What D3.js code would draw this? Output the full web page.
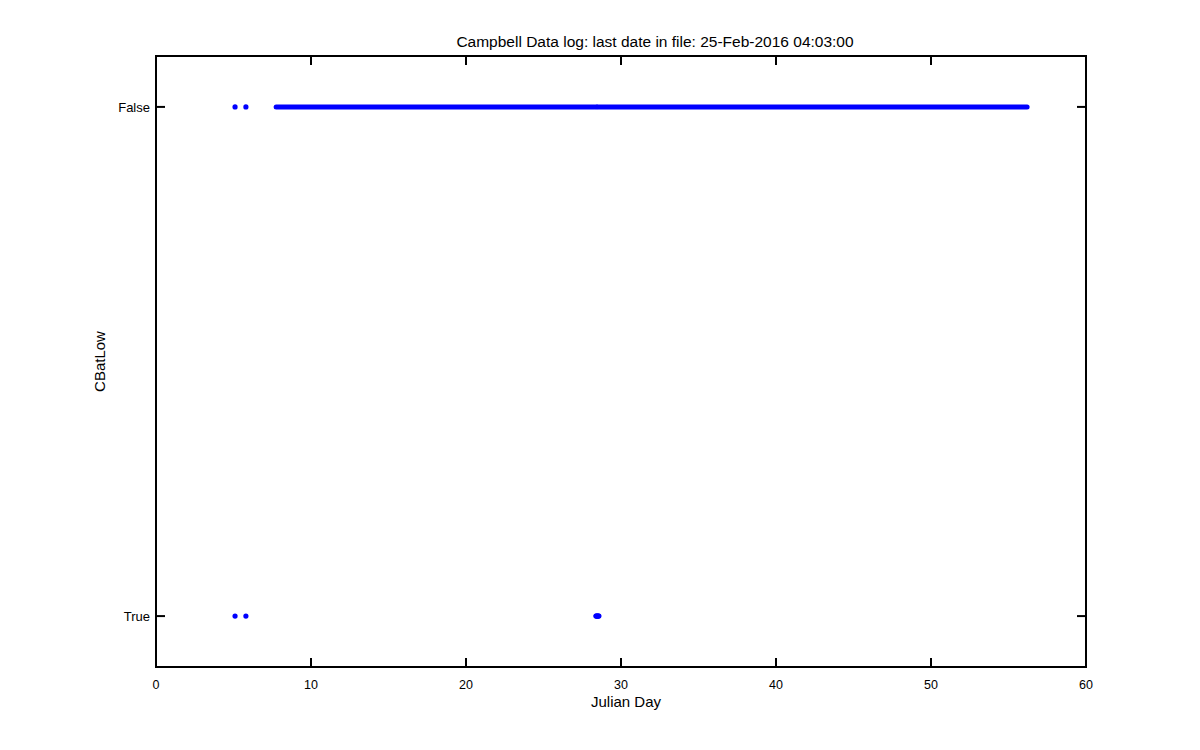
<!DOCTYPE html>
<html><head><meta charset="utf-8">
<script src="https://cdn.jsdelivr.net/npm/d3@7"></script>
<style>body{margin:0;background:#fff}text{font-family:"Liberation Sans",Arial,sans-serif;fill:#000}</style>
</head><body>
<svg id="c" width="1200" height="750"></svg>
<script>
const titleText = "Campbell Data log: last date in file: 25-Feb-2016 04:03:00";
const xLabel = "Julian Day";
const yLabel = "CBatLow";
const xTicks = [0, 10, 20, 30, 40, 50, 60];
const yCategories = ["True", "False"];
// isolated samples (day values)
const falsePoints = [5.1, 5.8, 28.45];
const truePoints = [5.1, 5.8, 28.4, 28.45, 28.5, 28.55];
// continuous runs of dense samples [startDay, endDay]
const falseRuns = [[7.75, 28.3], [28.6, 56.2]];
const trueRuns = [[28.38, 28.58]];

const svg = d3.select("#c");
const L = 156, R = 1086, T = 56, B = 667;
const x = d3.scaleLinear().domain([0, 60]).range([L, R]);
const y = d3.scaleLinear().domain([-0.1, 1.1]).range([B, T]);
const yOf = s => y(s === "False" ? 1 : 0);
const blue = "#0000ff";

svg.append("rect").attr("x", L).attr("y", T).attr("width", R - L).attr("height", B - T)
  .attr("fill", "none").attr("stroke", "#000").attr("stroke-width", 2);

const tl = 9;
xTicks.forEach(t => {
  svg.append("line").attr("x1", x(t)).attr("x2", x(t)).attr("y1", B).attr("y2", B - tl).attr("stroke", "#000").attr("stroke-width", 2);
  svg.append("line").attr("x1", x(t)).attr("x2", x(t)).attr("y1", T).attr("y2", T + tl).attr("stroke", "#000").attr("stroke-width", 2);
  svg.append("text").attr("x", x(t)).attr("y", B + 22).attr("text-anchor", "middle").attr("font-size", 12.5).text(t);
});
yCategories.forEach(c => {
  const yy = yOf(c);
  svg.append("line").attr("x1", L).attr("x2", L + tl).attr("y1", yy).attr("y2", yy).attr("stroke", "#000").attr("stroke-width", 2);
  svg.append("line").attr("x1", R).attr("x2", R - tl).attr("y1", yy).attr("y2", yy).attr("stroke", "#000").attr("stroke-width", 2);
  svg.append("text").attr("x", L - 6).attr("y", yy + 5).attr("text-anchor", "end").attr("font-size", 13).text(c);
});

const runs = falseRuns.map(r => ({r, s: "False"})).concat(trueRuns.map(r => ({r, s: "True"})));
svg.selectAll(".run").data(runs).join("line").attr("class", "run")
  .attr("x1", d => x(d.r[0])).attr("x2", d => x(d.r[1]))
  .attr("y1", d => yOf(d.s)).attr("y2", d => yOf(d.s))
  .attr("stroke", blue).attr("stroke-width", 5).attr("stroke-linecap", "round");

const pts = falsePoints.map(v => ({v, s: "False"})).concat(truePoints.map(v => ({v, s: "True"})));
svg.selectAll(".pt").data(pts).join("circle").attr("class", "pt")
  .attr("cx", d => x(d.v)).attr("cy", d => yOf(d.s)).attr("r", 2.6).attr("fill", blue);

svg.append("text").attr("x", 655).attr("y", 47).attr("text-anchor", "middle").attr("font-size", 15.5).text(titleText);
svg.append("text").attr("x", 626).attr("y", 707).attr("text-anchor", "middle").attr("font-size", 15).text(xLabel);
svg.append("text").attr("transform", `translate(105,${(T + B) / 2}) rotate(-90)`).attr("text-anchor", "middle").attr("font-size", 15).text(yLabel);
</script>
</body></html>
